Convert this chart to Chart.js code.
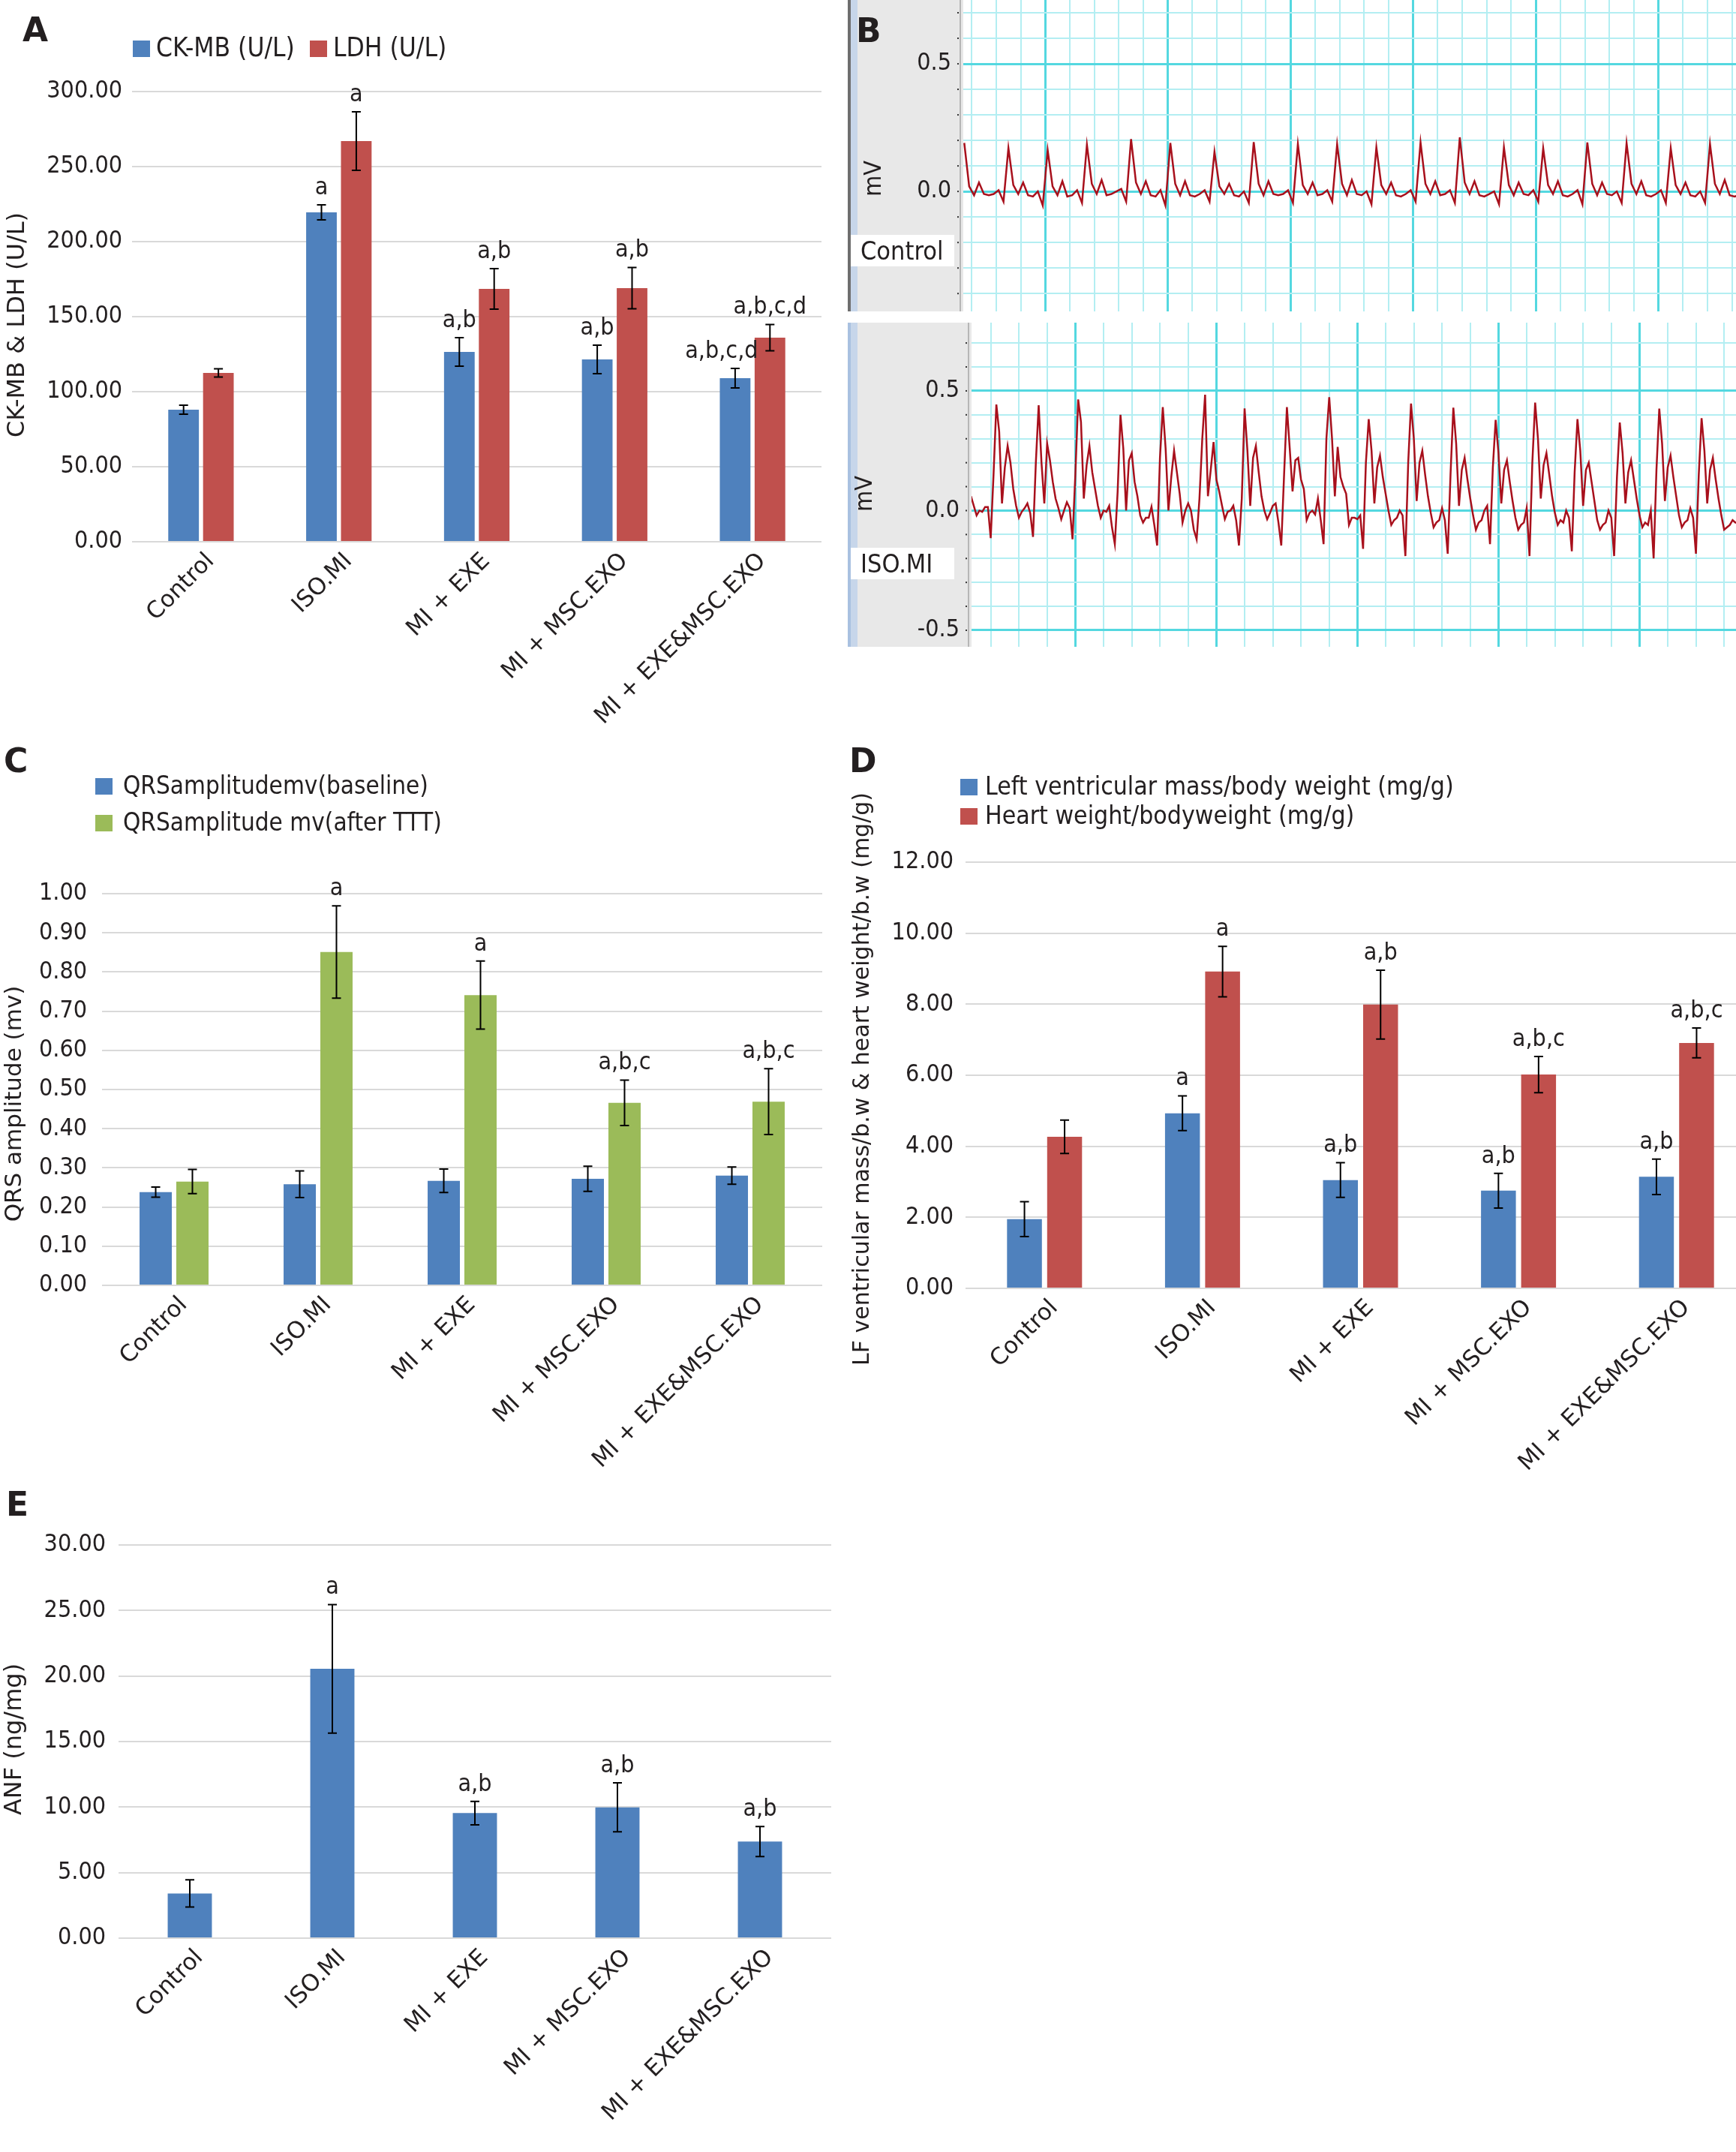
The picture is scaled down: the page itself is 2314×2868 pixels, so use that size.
<!DOCTYPE html>
<html>
<head>
<meta charset="utf-8">
<title>Cardiac injury markers, ECG and hypertrophy indices</title>
<script src="https://cdn.jsdelivr.net/npm/chart.js@4.4.1/dist/chart.umd.min.js"></script>
<style>
  html, body { margin: 0; padding: 0; background: #fff; overflow: hidden; width: 2314px; height: 2868px; }
  .panel { position: absolute; }
  .panel canvas { display: block; }
  .letter { position: absolute; z-index: 5; font: bold 44px "DejaVu Sans", sans-serif; line-height: 1; color: #231f20; }
</style>
</head>
<body>
<div class="letter" style="left:30px;top:18px">A</div>
<div class="letter" style="left:1141px;top:19px">B</div>
<div class="letter" style="left:5px;top:992px">C</div>
<div class="letter" style="left:1132px;top:992px">D</div>
<div class="letter" style="left:8px;top:1983px">E</div>

<div class="panel" style="left:0;top:0"><canvas id="chartA" width="1110" height="1000"></canvas></div>
<div class="panel" style="left:1120px;top:0"><canvas id="ecgControl" width="1194" height="415"></canvas></div>
<div class="panel" style="left:1120px;top:430px"><canvas id="ecgIso" width="1194" height="432"></canvas></div>
<div class="panel" style="left:0;top:960px"><canvas id="chartC" width="1110" height="1030"></canvas></div>
<div class="panel" style="left:1110px;top:960px"><canvas id="chartD" width="1240" height="1060"></canvas></div>
<div class="panel" style="left:0;top:1950px"><canvas id="chartE" width="1120" height="918"></canvas></div>

<script>
const groups = ['Control', 'ISO.MI', 'MI + EXE', 'MI + MSC.EXO', 'MI + EXE&MSC.EXO'];

// A - serum enzymes
const ckmb = [88, 219.5, 126.5, 121.5, 109];
const ckmbErr = [3, 5, 9.5, 9.5, 6.5];
const ckmbSig = ['', 'a', 'a,b', 'a,b', 'a,b,c,d'];
const ldh = [112.5, 267, 168.5, 169, 136];
const ldhErr = [2.8, 19.5, 13.5, 13.8, 8.8];
const ldhSig = ['', 'a', 'a,b', 'a,b', 'a,b,c,d'];

// C - QRS amplitude
const qrsBase = [0.238, 0.258, 0.267, 0.272, 0.280];
const qrsBaseErr = [0.013, 0.034, 0.030, 0.032, 0.022];
const qrsBaseSig = ['', '', '', '', ''];
const qrsAfter = [0.265, 0.851, 0.741, 0.466, 0.469];
const qrsAfterErr = [0.031, 0.118, 0.087, 0.058, 0.084];
const qrsAfterSig = ['', 'a', 'a', 'a,b,c', 'a,b,c'];

// D - hypertrophy indices
const lvMass = [1.95, 4.93, 3.05, 2.75, 3.14];
const lvMassErr = [0.49, 0.49, 0.49, 0.49, 0.50];
const lvMassSig = ['', 'a', 'a,b', 'a,b', 'a,b'];
const heartWt = [4.27, 8.92, 7.99, 6.02, 6.91];
const heartWtErr = [0.47, 0.71, 0.97, 0.51, 0.42];
const heartWtSig = ['', 'a', 'a,b', 'a,b,c', 'a,b,c'];

// E - ANF
const anf = [3.41, 20.55, 9.54, 9.98, 7.37];
const anfErr = [1.04, 4.9, 0.9, 1.87, 1.14];
const anfSig = ['', 'a', 'a,b', 'a,b', 'a,b'];

// B - ECG traces (mV), sampled at even steps along the strip
const ecgControlStart = -3.3, ecgControlStep = 0.2;
const ecgControl = [
  0.19, 0.02, -0.015, 0.035, -0.01, -0.015, -0.01, 0.005, -0.04,
  0.17, 0.025, -0.01, 0.035, -0.015, -0.02, 0.0, -0.055,
  0.162, 0.02, -0.015, 0.04, -0.02, -0.015, 0.005, -0.045,
  0.183, 0.03, -0.01, 0.045, -0.015, -0.01, 0.0, 0.01, -0.04,
  0.205, 0.035, -0.01, 0.04, -0.015, -0.02, 0.005, -0.055,
  0.19, 0.03, -0.015, 0.04, -0.015, -0.02, -0.01, 0.005, -0.04,
  0.155, 0.02, -0.01, 0.03, -0.015, -0.02, 0.0, -0.045,
  0.193, 0.03, -0.015, 0.04, -0.01, -0.015, -0.01, 0.005, -0.045,
  0.185, 0.025, -0.01, 0.035, -0.015, -0.01, 0.005, -0.04,
  0.185, 0.03, -0.015, 0.045, -0.01, -0.015, 0.0, -0.05,
  0.173, 0.025, -0.01, 0.035, -0.015, -0.02, -0.01, 0.005, -0.04,
  0.192, 0.03, -0.01, 0.04, -0.015, -0.01, 0.005, -0.045,
  0.212, 0.035, -0.01, 0.04, -0.015, -0.02, -0.01, 0.0, -0.05,
  0.173, 0.025, -0.015, 0.035, -0.01, -0.015, 0.005, -0.04,
  0.169, 0.025, -0.01, 0.04, -0.015, -0.02, -0.01, 0.005, -0.05,
  0.192, 0.03, -0.015, 0.035, -0.01, -0.015, 0.0, -0.045,
  0.189, 0.03, -0.01, 0.04, -0.015, -0.02, -0.01, 0.005, -0.045,
  0.169, 0.025, -0.01, 0.035, -0.015, -0.02, 0.0, -0.045,
  0.186, 0.03, -0.01, 0.045, -0.015, -0.02, -0.015
];
const ecgIsoStart = -3.7, ecgIsoStep = 0.1;
const ecgIso = [
  0.06, 0.02, -0.02, 0.0, -0.005, 0.015, 0.015, -0.115, 0.15, 0.443,
  0.33, 0.03, 0.18, 0.27, 0.2, 0.09, 0.02, -0.03, -0.005, 0.01,
  0.03, -0.01, -0.11, 0.2, 0.44, 0.2, 0.03, 0.28, 0.21, 0.12,
  0.05, 0.01, -0.036, 0.0, 0.035, 0.01, -0.12, 0.15, 0.464, 0.37,
  0.05, 0.19, 0.27, 0.16, 0.09, 0.02, -0.03, 0.0, -0.005, 0.02,
  -0.07, -0.14, 0.08, 0.40, 0.26, 0.0, 0.21, 0.24, 0.12, 0.06,
  -0.02, -0.05, -0.03, -0.03, 0.016, -0.06, -0.146, 0.22, 0.432, 0.26,
  0.0, 0.14, 0.25, 0.16, 0.07, -0.05, 0.0, 0.03, 0.0, -0.08,
  -0.12, 0.05, 0.3, 0.484, 0.06, 0.17, 0.286, 0.13, 0.08, 0.02,
  -0.036, -0.005, 0.0, 0.02, -0.04, -0.146, 0.05, 0.427, 0.25, 0.02,
  0.22, 0.27, 0.16, 0.06, 0.0, -0.036, -0.01, 0.02, 0.03, -0.05,
  -0.146, 0.15, 0.432, 0.26, 0.08, 0.21, 0.22, 0.13, 0.09, -0.04,
  -0.01, 0.0, -0.016, 0.05, -0.04, -0.14, 0.3, 0.474, 0.3, 0.06,
  0.266, 0.14, 0.1, 0.07, -0.06, -0.03, -0.03, -0.036, -0.02, -0.16,
  0.2, 0.382, 0.25, 0.03, 0.18, 0.23, 0.14, 0.07, 0.0, -0.06,
  -0.04, -0.03, 0.0, -0.02, -0.19, 0.2, 0.447, 0.3, 0.04, 0.2,
  0.25, 0.15, 0.06, -0.01, -0.07, -0.05, -0.04, 0.01, -0.04, -0.18,
  0.15, 0.43, 0.28, 0.02, 0.17, 0.22, 0.13, 0.05, -0.02, -0.08,
  -0.05, -0.04, 0.0, 0.02, -0.14, 0.18, 0.379, 0.24, 0.03, 0.17,
  0.21, 0.12, 0.04, -0.03, -0.08, -0.06, -0.05, 0.01, -0.19, 0.2,
  0.451, 0.3, 0.05, 0.19, 0.24, 0.15, 0.06, -0.01, -0.06, -0.04,
  -0.05, 0.0, -0.03, -0.17, 0.16, 0.382, 0.25, 0.02, 0.17, 0.2,
  0.12, 0.04, -0.04, -0.08, -0.06, -0.05, 0.0, -0.03, -0.19, 0.14,
  0.368, 0.24, 0.03, 0.16, 0.21, 0.13, 0.05, -0.02, -0.07, -0.05,
  -0.06, 0.0, -0.2, 0.17, 0.426, 0.28, 0.04, 0.18, 0.23, 0.14,
  0.06, -0.02, -0.07, -0.05, -0.04, 0.01, -0.03, -0.18, 0.15, 0.386,
  0.25, 0.03, 0.17, 0.22, 0.13, 0.05, -0.02, -0.08, -0.07, -0.06,
  -0.04, -0.05, -0.05
];
const ecgTickLabels = [0.5, 0.0, -0.5];

const BLUE = '#4f81bd', RED = '#c0504d', GREEN = '#9bbb59';
const TXT = '#231f20';
const SANS = '"DejaVu Sans", "Noto Sans", sans-serif';
const NARROW = '"DejaVu Sans Condensed", "DejaVu Sans", sans-serif';
const GRID_MAJ = '#54d8e0', GRID_MIN = '#b3eef2';

// error bars and significance letters on top of each bar
const errorBars = {
  id: 'errorBars',
  afterDatasetsDraw(chart) {
    const ctx = chart.ctx, ys = chart.scales.y;
    chart.data.datasets.forEach((ds, di) => {
      if (!ds.err) return;
      const meta = chart.getDatasetMeta(di);
      meta.data.forEach((bar, i) => {
        const top = ys.getPixelForValue(ds.data[i] + ds.err[i]);
        const bot = ys.getPixelForValue(ds.data[i] - ds.err[i]);
        ctx.save();
        ctx.strokeStyle = '#000';
        ctx.lineWidth = 2;
        ctx.beginPath();
        ctx.moveTo(bar.x, top); ctx.lineTo(bar.x, bot);
        ctx.moveTo(bar.x - 6, top); ctx.lineTo(bar.x + 6, top);
        ctx.moveTo(bar.x - 6, bot); ctx.lineTo(bar.x + 6, bot);
        ctx.stroke();
        if (ds.sig && ds.sig[i]) {
          const dx = (ds.sigShift && ds.sigShift[i]) || 0;
          ctx.fillStyle = TXT;
          ctx.font = '32px ' + NARROW;
          ctx.textAlign = 'center';
          ctx.textBaseline = 'alphabetic';
          ctx.fillText(ds.sig[i], bar.x + dx, top - 14);
        }
        ctx.restore();
      });
    });
  }
};

// legend boxes + rotated y title for the bar panels
const decor = {
  id: 'decor',
  afterDraw(chart, args, o) {
    if (!o || !o.title) return;
    const ctx = chart.ctx;
    ctx.save();
    (o.legend || []).forEach(it => {
      ctx.fillStyle = it.color;
      ctx.fillRect(it.x, it.y, 23, 22);
      ctx.fillStyle = TXT;
      ctx.font = o.legendSize + 'px ' + NARROW;
      ctx.textAlign = 'left';
      ctx.textBaseline = 'middle';
      ctx.fillText(it.text, it.x + o.gap, it.y + 12);
    });
    ctx.translate(o.title.x, o.title.y);
    ctx.rotate(-Math.PI / 2);
    ctx.fillStyle = TXT;
    ctx.font = o.title.size + 'px ' + SANS;
    ctx.textAlign = 'center';
    ctx.textBaseline = 'middle';
    ctx.fillText(o.title.text, 0, 0);
    ctx.restore();
  }
};

// grey side panel, tick labels and caption box of the ECG strips
const ecgFrame = {
  id: 'ecgFrame',
  beforeDraw(chart, args, o) {
    if (!o || !o.label) return;
    const ctx = chart.ctx, a = chart.chartArea;
    ctx.save();
    ctx.fillStyle = '#e8e8e8';
    ctx.fillRect(10, 0, a.left - 10, chart.height);
    ctx.fillStyle = o.edge;
    ctx.fillRect(10, 0, 4, chart.height);
    ctx.fillStyle = '#c7d6ea';
    ctx.fillRect(14, 0, 9, chart.height);
    ctx.restore();
  },
  afterDraw(chart, args, o) {
    if (!o || !o.label) return;
    const ctx = chart.ctx, a = chart.chartArea, ys = chart.scales.y;
    ctx.save();
    ctx.strokeStyle = '#a6a6a6';
    ctx.lineWidth = 1.5;
    ctx.beginPath();
    ctx.moveTo(a.left - 4, 0); ctx.lineTo(a.left - 4, chart.height);
    ctx.stroke();
    ctx.fillStyle = '#333';
    ys.ticks.forEach(t => {
      ctx.fillRect(a.left - 8, ys.getPixelForValue(t.value) - 1, 2, 2);
    });
    ctx.fillStyle = TXT;
    ctx.font = '32px ' + NARROW;
    ctx.textAlign = 'right';
    ctx.textBaseline = 'middle';
    ecgTickLabels.forEach(v => {
      const y = ys.getPixelForValue(v);
      if (y > 10 && y < chart.height - 10) ctx.fillText(v.toFixed(1), a.left - 16, y);
    });
    ctx.save();
    ctx.translate(o.unitX, o.unitY);
    ctx.rotate(-Math.PI / 2);
    ctx.textAlign = 'center';
    ctx.fillText('mV', 0, 0);
    ctx.restore();
    ctx.fillStyle = '#fff';
    ctx.fillRect(14, o.boxY, 138, 42);
    ctx.fillStyle = TXT;
    ctx.font = '34px ' + NARROW;
    ctx.textAlign = 'left';
    ctx.textBaseline = 'alphabetic';
    ctx.fillText(o.label, 27, o.boxY + 33);
    ctx.restore();
  }
};

Chart.register(errorBars, decor, ecgFrame);

function barPanel(id, o) {
  const datasets = o.series.map(s => ({
    label: s.label,
    data: s.values,
    err: s.err,
    sig: s.sig,
    sigShift: s.sigShift,
    backgroundColor: s.color,
    borderWidth: 0,
    categoryPercentage: o.catPct,
    barPercentage: o.barPct
  }));
  const canvas = document.getElementById(id);
  return new Chart(canvas, {
    type: 'bar',
    data: { labels: groups, datasets },
    options: {
      responsive: false,
      animation: false,
      devicePixelRatio: 1,
      events: [],
      layout: { padding: { left: 0, right: canvas.width - o.right, top: o.top, bottom: 0 } },
      plugins: {
        legend: { display: false },
        tooltip: { enabled: false },
        decor: {
          gap: o.legendGap,
          legendSize: o.legendSize,
          legend: o.series.filter(s => s.legend).map(s => ({ x: s.legend[0], y: s.legend[1], color: s.color, text: s.label })),
          title: { x: o.titleX, y: o.titleY, text: o.yTitle, size: o.titleSize }
        }
      },
      scales: {
        x: {
          grid: { display: false },
          border: { display: false },
          ticks: {
            color: TXT,
            font: { family: SANS, size: 31 },
            minRotation: 45,
            maxRotation: 45,
            autoSkip: false,
            padding: 0,
            labelOffset: 13
          },
          afterFit: s => { s.height = canvas.height - o.bottom; }
        },
        y: {
          min: 0,
          max: o.max,
          grid: { color: '#d9d9d9', lineWidth: 2, drawTicks: false },
          border: { display: false },
          ticks: {
            stepSize: o.step,
            color: TXT,
            font: { family: NARROW, size: 32 },
            padding: o.tickPad,
            callback: v => v.toFixed(2)
          },
          afterFit: s => { s.width = o.left; }
        }
      }
    }
  });
}

function tickRange(lo, hi, step) {
  const out = [];
  for (let k = Math.ceil(lo / step - 1e-9); k * step <= hi + 1e-9; k++) out.push({ value: +(k * step).toFixed(4) });
  return out;
}

function isMajor(v, every) {
  return Math.abs(v / every - Math.round(v / every)) < 1e-6;
}

function ecgChart(id, o) {
  const pts = o.values.map((v, i) => ({ x: +(o.start + o.step * i).toFixed(4), y: v }));
  return new Chart(document.getElementById(id), {
    type: 'line',
    data: {
      datasets: [{
        data: pts,
        borderColor: '#a8101c',
        borderWidth: 2.5,
        pointRadius: 0,
        tension: 0,
        fill: false
      }]
    },
    options: {
      responsive: false,
      animation: false,
      devicePixelRatio: 1,
      events: [],
      layout: { padding: 0 },
      plugins: { legend: { display: false }, tooltip: { enabled: false }, ecgFrame: o.frame },
      scales: {
        x: {
          type: 'linear',
          min: o.xMin,
          max: o.xMax,
          ticks: { display: false },
          border: { display: false },
          grid: {
            drawTicks: false,
            color: c => (c.tick && isMajor(c.tick.value, 5) ? GRID_MAJ : GRID_MIN),
            lineWidth: c => (c.tick && isMajor(c.tick.value, 5) ? 3 : 2)
          },
          afterBuildTicks: s => { s.ticks = tickRange(o.xMin, o.xMax, 1); },
          afterFit: s => { s.height = 0; }
        },
        y: {
          min: o.yMin,
          max: o.yMax,
          ticks: { display: false },
          border: { display: false },
          grid: {
            drawTicks: false,
            color: c => (c.tick && isMajor(c.tick.value, 0.5) ? GRID_MAJ : GRID_MIN),
            lineWidth: c => (c.tick && isMajor(c.tick.value, 0.5) ? 3 : 2)
          },
          afterBuildTicks: s => { s.ticks = tickRange(o.yMin, o.yMax, 0.1); },
          afterFit: s => { s.width = o.left; }
        }
      }
    }
  });
}

barPanel('chartA', {
  left: 176, right: 1095, top: 122, bottom: 722,
  max: 300, step: 50, tickPad: 13,
  catPct: 0.505, barPct: 0.88,
  yTitle: 'CK-MB & LDH (U/L)', titleX: 24, titleY: 433, titleSize: 32,
  legendGap: 31, legendSize: 35,
  series: [
    { label: 'CK-MB (U/L)', values: ckmb, err: ckmbErr, sig: ckmbSig, sigShift: { 4: -18 }, color: BLUE, legend: [177, 54] },
    { label: 'LDH (U/L)', values: ldh, err: ldhErr, sig: ldhSig, color: RED, legend: [413, 54] }
  ]
});

barPanel('chartC', {
  left: 136, right: 1096, top: 231, bottom: 753,
  max: 1, step: 0.1, tickPad: 20,
  catPct: 0.51, barPct: 0.878,
  yTitle: 'QRS amplitude (mv)', titleX: 20, titleY: 511, titleSize: 31,
  legendGap: 37, legendSize: 33,
  series: [
    { label: 'QRSamplitudemv(baseline)', values: qrsBase, err: qrsBaseErr, sig: qrsBaseSig, color: BLUE, legend: [127, 77] },
    { label: 'QRSamplitude mv(after TTT)', values: qrsAfter, err: qrsAfterErr, sig: qrsAfterSig, color: GREEN, legend: [127, 126] }
  ]
});

barPanel('chartD', {
  left: 177, right: 1230, top: 189, bottom: 757,
  max: 12, step: 2, tickPad: 16,
  catPct: 0.508, barPct: 0.869,
  yTitle: 'LF ventricular mass/b.w & heart weight/b.w (mg/g)', titleX: 40, titleY: 478, titleSize: 30,
  legendGap: 33, legendSize: 33.5,
  series: [
    { label: 'Left ventricular mass/body weight (mg/g)', values: lvMass, err: lvMassErr, sig: lvMassSig, color: BLUE, legend: [170, 78] },
    { label: 'Heart weight/bodyweight (mg/g)', values: heartWt, err: heartWtErr, sig: heartWtSig, color: RED, legend: [170, 117] }
  ]
});

barPanel('chartE', {
  left: 158, right: 1108, top: 109, bottom: 633,
  max: 30, step: 5, tickPad: 17,
  catPct: 0.31, barPct: 1,
  yTitle: 'ANF (ng/mg)', titleX: 20, titleY: 368, titleSize: 32,
  legendGap: 0, legendSize: 32,
  series: [
    { label: 'ANF (ng/mg)', values: anf, err: anfErr, sig: anfSig, color: BLUE }
  ]
});

ecgChart('ecgControl', {
  values: ecgControl, start: ecgControlStart, step: ecgControlStep,
  xMin: -3.34, xMax: 28.16, yMin: -0.47, yMax: 0.75, left: 164,
  frame: { label: 'Control', boxY: 313, unitX: 46, unitY: 238, edge: '#6e6e6e' }
});

ecgChart('ecgIso', {
  values: ecgIso, start: ecgIsoStart, step: ecgIsoStep,
  xMin: -3.68, xMax: 23.42, yMin: -0.569, yMax: 0.785, left: 175,
  frame: { label: 'ISO.MI', boxY: 300, unitX: 34, unitY: 228, edge: '#a9c1e0' }
});
</script>
</body>
</html>
